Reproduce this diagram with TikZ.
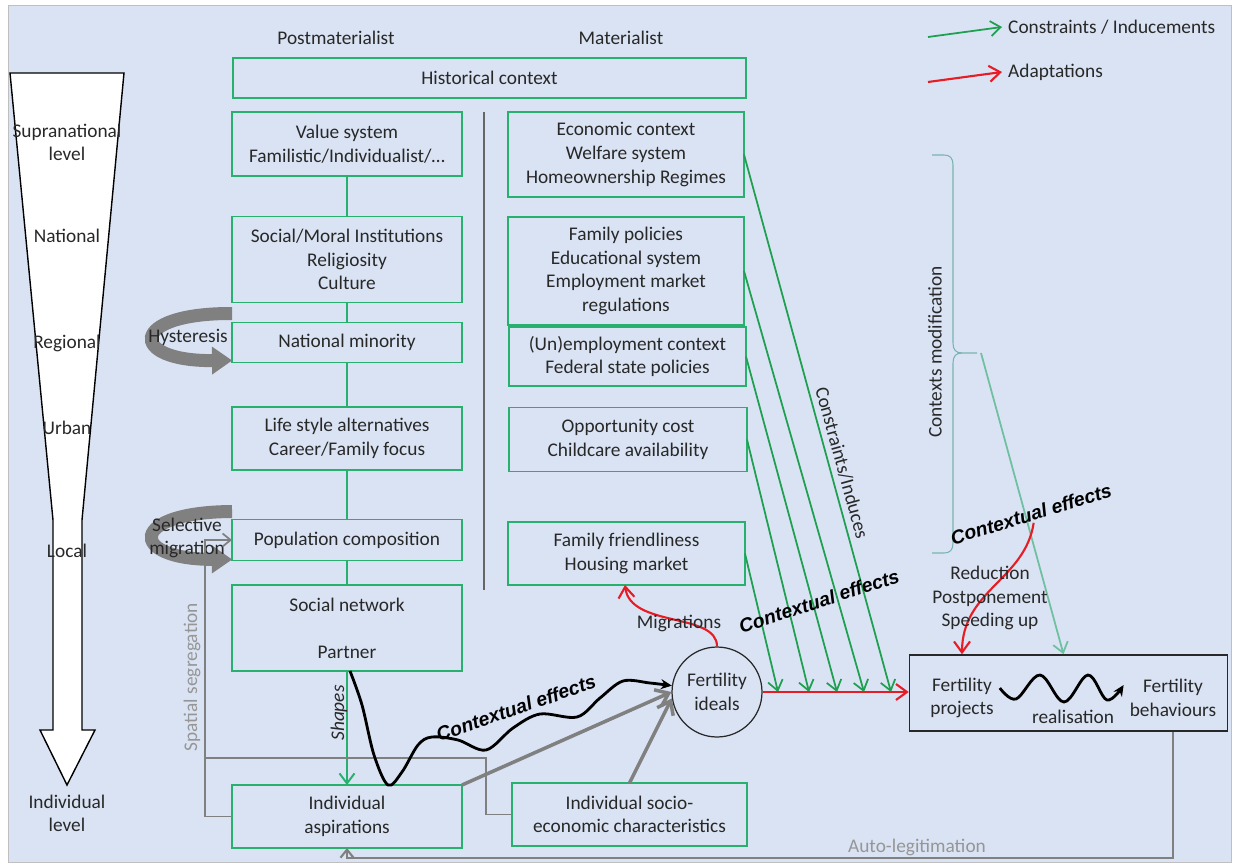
\documentclass[tikz,border=0pt]{standalone}
\usepackage{fontspec}
\setmainfont{Carlito}
\newfontfamily\ctxfont{Liberation Sans}
\usepackage{xcolor}
\usepackage{tikz}
\usetikzlibrary{arrows.meta, positioning, shapes.geometric}

\definecolor{bgblue}{RGB}{218,227,243}
\definecolor{boxgreen}{RGB}{40,176,110}
\definecolor{linegreen}{RGB}{30,160,80}
\definecolor{arrred}{RGB}{232,28,36}
\definecolor{thgray}{RGB}{128,128,128}
\definecolor{pgray}{RGB}{150,150,150}
\definecolor{lteal}{RGB}{110,192,160}
\definecolor{brcteal}{RGB}{120,180,175}
\definecolor{txtgray}{RGB}{40,40,40}

\begin{document}
\begin{tikzpicture}[
  x=0.02cm, y=-0.02cm,
  font=\fontsize{11}{13.4}\selectfont,
  every node/.append style={text=txtgray},
  gbox/.style={rectangle, draw=boxgreen, line width=0.8pt, align=center, inner sep=0pt, outer sep=0pt, minimum width=4.6cm},
  glink/.style={draw=boxgreen, line width=1.1pt},
  garr/.style={linegreen, line width=1pt, -{Straight Barb[length=0.2cm, width=0.3cm]}},
  rarr/.style={arrred, line width=1.2pt, -{Straight Barb[length=0.22cm, width=0.32cm]}},
  tharr/.style={thgray, line width=2pt, -{Straight Barb[length=0.24cm, width=0.36cm]}},
  gline/.style={thgray, line width=1pt},
  blk/.style={black, line width=1.6pt, -{Stealth[length=0.22cm, width=0.2cm]}},
  hyst/.style={thgray, line width=0.26cm, -{Triangle[length=0.4cm, width=0.56cm, line width=0pt]}},
  ctx/.style={font=\ctxfont\bfseries\itshape\fontsize{11}{13}\selectfont, text=black, inner sep=1pt},
  brc/.style={brcteal, line width=0.6pt}
]
\useasboundingbox (0,0) rectangle (1236,865);
\fill[bgblue, draw=black!25] (8,5) rectangle (1231,862);

\node (hpost) at (336,38) {Postmaterialist};
\node (hmat) at (621,38) {Materialist};

\draw[black, line width=0.8pt, fill=white] (10,73) -- (124,73) -- (82,520) -- (82,730) -- (95,730) -- (67,785) -- (40,730) -- (53,730) -- (53,520) -- cycle;
\node[align=center] (lsup) at (67,142.5) {Supranational\\level};
\node (lnat) at (67,236) {National};
\node (lreg) at (67,343) {Regional};
\node (lurb) at (67,428) {Urban};
\node (lloc) at (67,551) {Local};
\node[align=center] (lind) at (67,813.5) {Individual\\level};

\node[gbox, minimum width=10.26cm, minimum height=0.8cm] (hist) at (489.5,78) {Historical context};
\node[gbox, minimum height=1.28cm] (val) at (347,144) {Value system\\Familistic/Individualist/…};
\node[gbox, minimum height=1.72cm] (soc) at (347,259.5) {Social/Moral Institutions\\Religiosity\\Culture};
\node[gbox, minimum height=0.8cm] (nat) at (347,342.5) {National minority};
\node[gbox, minimum height=1.26cm] (life) at (347,438.5) {Life style alternatives\\Career/Family focus};
\node[gbox, minimum height=0.82cm] (pop) at (347,540) {Population composition};
\node[gbox, minimum height=1.72cm] (net) at (347,628) {Social network\\[13.4pt]Partner};
\node[gbox, minimum height=1.26cm] (asp) at (347,816.5) {Individual\\aspirations};

\node[gbox, minimum width=4.72cm, minimum height=1.7cm] (eco) at (626,154.5) {Economic context\\Welfare system\\Homeownership Regimes};
\node[gbox, minimum width=4.72cm, minimum height=2.16cm] (fam) at (626,271) {Family policies\\Educational system\\Employment market\\regulations};
\node[gbox, minimum width=4.74cm, minimum height=1.18cm] (unemp) at (627.5,356.5) {(Un)employment context\\Federal state policies};
\node[gbox, minimum width=4.76cm, minimum height=1.28cm] (opp) at (628,439.5) {Opportunity cost\\Childcare availability};
\node[gbox, minimum width=4.74cm, minimum height=1.26cm] (ffr) at (626.5,553.5) {Family friendliness\\Housing market};
\node[gbox, minimum width=4.7cm, minimum height=1.26cm] (sec) at (629.5,814.5) {Individual socio-\\economic characteristics};

\draw[black!60, line width=0.8pt] (484,112) -- (484,590);

\node[circle, draw=txtgray, line width=0.7pt, minimum size=1.8cm, inner sep=0pt, align=center] (ideal) at (717,692) {Fertility\\ideals};
\node[rectangle, draw=txtgray, line width=0.9pt, minimum width=6.36cm, minimum height=1.52cm] (fbox) at (1068.5,693) {};
\node[align=center] (proj) at (962,698) {Fertility\\projects};
\node[align=center] (behav) at (1173,698) {Fertility\\behaviours};
\node (realis) at (1073,717) {realisation};

\draw[glink] (val) -- (soc);
\draw[glink] (soc) -- (nat);
\draw[glink] (nat) -- (life);
\draw[glink] (life) -- (pop);
\draw[glink] (pop) -- (net);
\draw[glink, -{Straight Barb[length=0.2cm, width=0.3cm]}] (net) -- (asp);
\node[rotate=90, font=\fontsize{11}{13.4}\selectfont\itshape] (shp) at (339,713) {Shapes};

\draw[hyst] ([yshift=0.18cm]nat.north west) .. controls (128,313) and (128,361) .. ([yshift=0.04cm]nat.south west);
\draw[hyst] ([yshift=0.16cm]pop.north west) .. controls (128,512) and (128,559) .. ([yshift=0.02cm]pop.south west);
\node (hys) at (188,337) {Hysteresis};
\node[align=center] (selmig) at (187,538) {Selective\\migration};

\coordinate (segx) at (205,700);
\coordinate (junc) at (486,758);
\draw[gline, -{Straight Barb[length=0.16cm, width=0.26cm]}] (asp.west) -| (segx) |- (pop.west);
\draw[gline] (sec.west) -| (junc) -- (junc -| segx);
\node[rotate=90, text=pgray] (spseg) at (192,677) {Spatial segregation};

\draw[tharr] (asp.north east) -- (ideal.west);
\draw[tharr] (sec.north) -- (ideal.188);
\draw[blk] plot[smooth, tension=0.55] coordinates {([xshift=0.06cm]net.south) (362,705) (374,755) (388,785) (402,772) (418,745) (432,737) (458,740) (486,750) (513,728) (540,714) (577,717) (600,698) (623,681) (650,683) (ideal.172)};
\node[ctx, rotate=19] (ctx1) at (516,708) {Contextual effects};

\coordinate (g1) at (778,692);
\coordinate (g2) at (809,692);
\coordinate (g3) at (837,692);
\coordinate (g4) at (864,692);
\coordinate (g5) at (891,692);
\draw[garr] (ffr.east) -- (g1);
\draw[garr] (opp.east) -- (g2);
\draw[garr] (unemp.east) -- (g3);
\draw[garr] (fam.east) -- (g4);
\draw[garr] (eco.east) -- (g5);
\draw[rarr] (ideal.east) -- (fbox.west |- ideal.east);
\node[rotate=-74.6] (cons) at (842,463) {Constraints/Induces};
\node[ctx, rotate=18] (ctx2) at (819,601) {Contextual effects};

\draw[rarr] (ideal.north) .. controls (717,612) and (630,628) .. ([xshift=-0.03cm]ffr.south);
\node (migr) at (679,623) {Migrations};

\draw[brc] (932,155) -- (944,155) .. controls (950,155) and (953,158) .. (953,165) -- (953,343) .. controls (953,350) and (956,353) .. (962,353) -- (977,353);
\draw[brc] (962,353) .. controls (956,353) and (953,356) .. (953,363) -- (953,543) .. controls (953,550) and (950,553) .. (944,553) -- (932,553);
\node[rotate=90] (cmod) at (935,352) {Contexts modification};
\coordinate (brtip) at (981,353);
\draw[lteal, line width=1pt, -{Straight Barb[length=0.2cm, width=0.3cm]}] (brtip) -- ([xshift=-0.1cm]fbox.north);

\node[ctx, rotate=17] (ctx3) at (1031,514) {Contextual effects};
\draw[rarr] (ctx3.south) .. controls (1025,580) and (962,590) .. (proj |- fbox.north);
\node[align=center] (adapt) at (990,598) {Reduction\\Postponement\\Speeding up};

\draw[blk] plot[smooth, tension=0.6] coordinates {([yshift=0.2cm]proj.east) (1016,699) (1040,675) (1064,702) (1088,675) (1107,700) ([yshift=0.26cm]behav.west)};

\coordinate (autob) at (0,858);
\draw[gline, line width=1.2pt, -{Straight Barb[length=0.16cm, width=0.26cm]}] (behav |- fbox.south) -- (behav |- autob) -| (asp.south);
\node[text=pgray] (autol) at (917,847) {Auto-legitimation};

\coordinate (legCs) at (928,37);
\coordinate (legAs) at (928,82);
\node[anchor=west] (legC) at (1002,27) {Constraints / Inducements};
\node[anchor=west] (legA) at (1002,72) {Adaptations};
\draw[garr] (legCs) -- (legC.west);
\draw[rarr] (legAs) -- (legA.west);
\end{tikzpicture}
\end{document}
